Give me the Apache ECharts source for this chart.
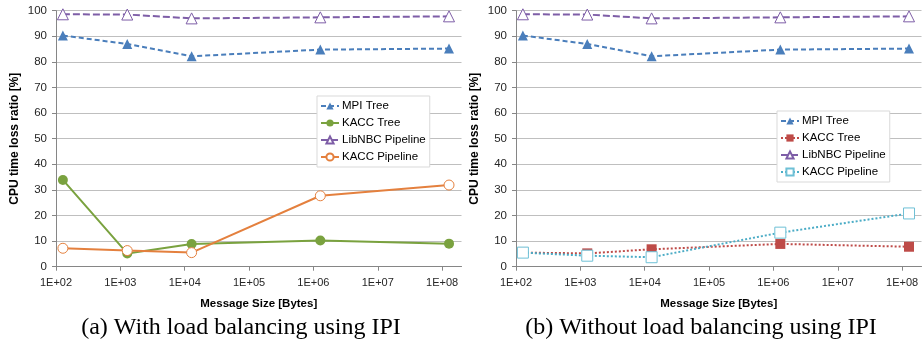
<!DOCTYPE html>
<html><head><meta charset="utf-8">
<script src="https://cdn.jsdelivr.net/npm/echarts@6/dist/echarts.min.js"></script>
<style>
html,body{margin:0;padding:0;background:#fff;width:923px;height:350px;overflow:hidden}
#a{position:absolute;left:0;top:0;width:463px;height:350px}
#b{position:absolute;left:460px;top:0;width:463px;height:350px}
</style></head><body>
<div id="a"></div><div id="b"></div>
<script>
// ---- data ----
const messageSizes = [128, 1280, 12800, 1280000, 128000000];

const mpiTreeA        = [90.3, 87.0, 82.2, 84.8, 85.2];
const kaccTreeA       = [33.9, 5.2, 8.9, 10.2, 9.0];
const libnbcPipelineA = [98.6, 98.5, 97.0, 97.4, 97.8];
const kaccPipelineA   = [7.2, 6.3, 5.5, 27.7, 31.9];

const mpiTreeB        = [90.3, 87.0, 82.2, 84.8, 85.2];
const kaccTreeB       = [5.5, 5.2, 6.8, 8.9, 7.8];
const libnbcPipelineB = [98.6, 98.5, 97.0, 97.4, 97.8];
const kaccPipelineB   = [5.5, 4.3, 3.7, 13.3, 20.8];

const seriesNames = ['MPI Tree', 'KACC Tree', 'LibNBC Pipeline', 'KACC Pipeline'];
const captionA = '(a) With load balancing using IPI';
const captionB = '(b) Without load balancing using IPI';
const xAxisTitle = 'Message Size [Bytes]';
const yAxisTitle = 'CPU time loss ratio [%]';

// ---- helpers ----
const SANS = '"Liberation Sans", Arial, sans-serif';
const pairs = vals => messageSizes.map((s, i) => [s, vals[i]]);
const fmtExp = v => '1E+' + String(Math.round(Math.log10(v))).padStart(2, '0');

function mk(name, vals, color, lineType, symbol, size, hollow, borderColor) {
  return {
    name, type: 'line', data: pairs(vals),
    symbol, symbolSize: size,
    lineStyle: {color, width: 2, type: lineType},
    itemStyle: hollow ? {color: '#fff', borderColor: borderColor || color, borderWidth: 1}
                      : {color, borderColor: color, borderWidth: 0},
    emphasis: {disabled: true}, animation: false
  };
}

function buildOption(series, legendPos, caption) {
  return {
    animation: false,
    textStyle: {fontFamily: SANS},
    grid: {left: 56, top: 10.7, width: 405.5, height: 256, outerBoundsMode: 'none'},
    xAxis: {
      type: 'log', logBase: 10, min: 100, max: 2e8,
      name: xAxisTitle, nameLocation: 'middle', nameGap: 31,
      nameTextStyle: {fontFamily: SANS, fontWeight: 'bold', fontSize: 11.5, color: '#000'},
      axisLine: {show: true, lineStyle: {color: '#868686', width: 1}},
      axisTick: {show: true, length: 4, inside: false, lineStyle: {color: '#868686'}},
      axisLabel: {fontFamily: SANS, fontSize: 11, color: '#262626', margin: 11,
                  formatter: fmtExp, showMaxLabel: false, showMinLabel: true},
      splitLine: {show: false}, minorTick: {show: false}
    },
    yAxis: {
      type: 'value', min: 0, max: 100, interval: 10,
      name: yAxisTitle, nameLocation: 'middle', nameGap: 35, nameRotate: 90,
      nameMoveOverlap: false,
      nameTextStyle: {fontFamily: SANS, fontWeight: 'bold', fontSize: 12, color: '#000'},
      axisLine: {show: true, lineStyle: {color: '#868686', width: 1}},
      axisTick: {show: true, length: 4, inside: false, lineStyle: {color: '#868686'}},
      axisLabel: {fontFamily: SANS, fontSize: 11.5, color: '#262626', margin: 9},
      splitLine: {show: true, lineStyle: {color: '#bfbfbf', width: 1}}
    },
    legend: {
      orient: 'vertical', left: legendPos[0], top: legendPos[1],
      data: seriesNames,
      itemWidth: 18, itemHeight: 9, itemGap: 5,
      padding: [4, 4, 4, 3],
      backgroundColor: '#fff', borderColor: '#d9d9d9', borderWidth: 1,
      textStyle: {fontFamily: SANS, fontSize: 11.5, color: '#000', padding: [0, 0, 0, -2]},
      selectedMode: false
    },
    graphic: [{
      type: 'text', x: 241, y: 328,
      style: {text: caption, x: 0, y: 0, align: 'center', verticalAlign: 'middle',
              font: '24px "Liberation Serif", "Times New Roman", serif', fill: '#000'}
    }],
    series
  };
}

const blue = '#4a7ebb', purple = '#7e5ea7', green = '#7aa23f', orange = '#e4803e',
      red = '#be4b48', cyan = '#4bacc6';

const seriesA = [
  mk('MPI Tree', mpiTreeA, blue, [5, 3], 'triangle', 10, false),
  mk('KACC Tree', kaccTreeA, green, 'solid', 'circle', 10, false),
  mk('LibNBC Pipeline', libnbcPipelineA, purple, [7, 3], 'triangle', 11, true),
  mk('KACC Pipeline', kaccPipelineA, orange, 'solid', 'circle', 10, true)
];
const seriesB = [
  mk('MPI Tree', mpiTreeB, blue, [5, 3], 'triangle', 10, false),
  mk('KACC Tree', kaccTreeB, red, [2, 2], 'rect', 10, false),
  mk('LibNBC Pipeline', libnbcPipelineB, purple, [7, 3], 'triangle', 11, true),
  mk('KACC Pipeline', kaccPipelineB, cyan, [2, 2], 'rect', 11, true, '#6ec0d6')
];

echarts.init(document.getElementById('a'), null, {renderer: 'canvas'})
  .setOption(buildOption(seriesA, [317, 96], captionA));
echarts.init(document.getElementById('b'), null, {renderer: 'canvas'})
  .setOption(buildOption(seriesB, [317, 111], captionB));
</script>
</body></html>
